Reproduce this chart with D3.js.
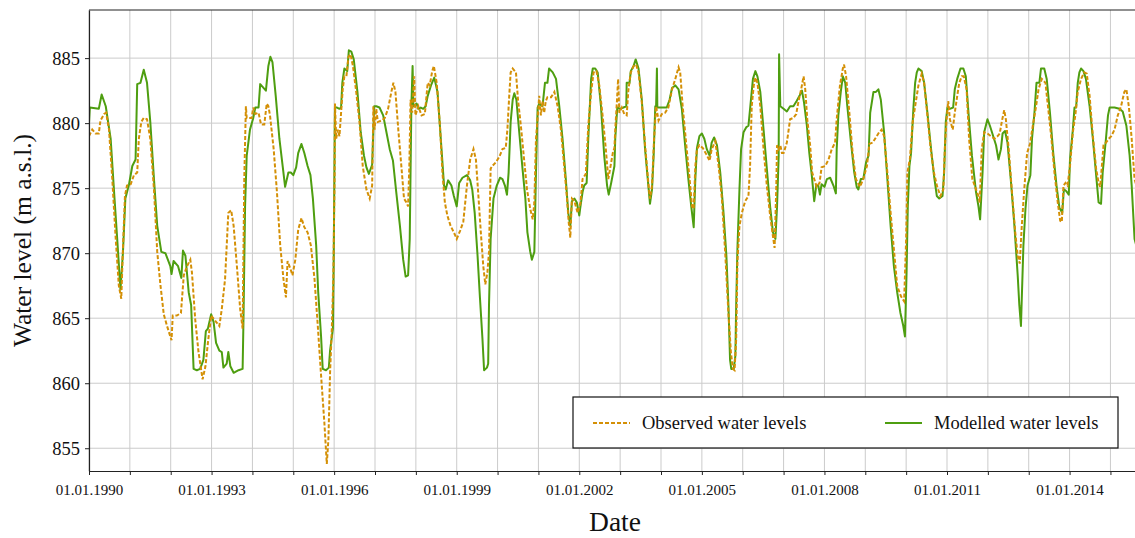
<!DOCTYPE html>
<html>
<head>
<meta charset="utf-8">
<script src="https://cdn.jsdelivr.net/npm/d3@7"></script>
<style>
  body { margin: 0; background: #fff; }
  svg { display: block; }
  svg text { font-family: "Liberation Serif", "Times New Roman", serif; }
</style>
</head>
<body>
<div id="chart"></div>
<script>
// values (decimal year, m a.s.l.)
var modelledYears = [
  1990.00,1990.02,1990.24,1990.31,1990.41,1990.53,1990.61,1990.69,1990.77,1990.83,1990.89,1990.98,
  1991.06,1991.14,1991.18,1991.26,1991.34,1991.42,1991.50,1991.59,1991.67,1991.77,1991.87,1991.99,
  1992.02,1992.07,1992.18,1992.26,1992.30,1992.36,1992.44,1992.50,1992.56,1992.64,1992.72,1992.80,
  1992.86,1992.91,1992.99,1993.05,1993.11,1993.19,1993.25,1993.29,1993.37,1993.41,1993.46,1993.54,
  1993.66,1993.76,1993.78,1993.82,1993.86,1993.94,1994.02,1994.07,1994.15,1994.19,1994.33,1994.39,
  1994.44,1994.49,1994.57,1994.66,1994.74,1994.80,1994.88,1994.94,1995.00,1995.07,1995.12,1995.20,
  1995.27,1995.35,1995.42,1995.48,1995.56,1995.61,1995.68,1995.72,1995.80,1995.87,1995.90,1995.97,
  1995.99,1996.02,1996.07,1996.13,1996.17,1996.20,1996.25,1996.32,1996.36,1996.42,1996.48,1996.57,
  1996.65,1996.73,1996.79,1996.85,1996.93,1996.98,1997.03,1997.11,1997.20,1997.28,1997.36,1997.44,
  1997.52,1997.61,1997.69,1997.75,1997.81,1997.85,1997.89,1997.92,1997.94,1998.02,1998.06,1998.12,
  1998.18,1998.24,1998.29,1998.37,1998.45,1998.53,1998.61,1998.69,1998.73,1998.79,1998.87,1998.93,
  1999.00,1999.06,1999.14,1999.25,1999.33,1999.38,1999.44,1999.51,1999.57,1999.63,1999.67,1999.74,
  1999.77,1999.79,1999.83,1999.90,1999.98,2000.06,2000.12,2000.18,2000.23,2000.27,2000.32,2000.37,
  2000.41,2000.46,2000.53,2000.61,2000.68,2000.73,2000.80,2000.84,2000.90,2000.94,2000.98,2001.02,
  2001.10,2001.16,2001.22,2001.26,2001.35,2001.43,2001.51,2001.59,2001.67,2001.73,2001.78,2001.82,
  2001.88,2001.94,2002.00,2002.02,2002.08,2002.12,2002.18,2002.22,2002.29,2002.33,2002.39,2002.45,
  2002.53,2002.61,2002.68,2002.72,2002.78,2002.86,2002.88,2002.93,2003.00,2003.08,2003.15,2003.16,
  2003.23,2003.26,2003.33,2003.38,2003.45,2003.53,2003.61,2003.69,2003.73,2003.78,2003.82,2003.86,
  2003.88,2003.90,2003.91,2003.98,2004.06,2004.14,2004.21,2004.27,2004.35,2004.43,2004.51,2004.59,
  2004.67,2004.74,2004.80,2004.84,2004.88,2004.94,2005.00,2005.06,2005.12,2005.19,2005.24,2005.30,
  2005.37,2005.45,2005.53,2005.60,2005.65,2005.69,2005.72,2005.78,2005.82,2005.84,2005.87,2005.92,
  2005.96,2006.02,2006.09,2006.14,2006.18,2006.25,2006.31,2006.36,2006.43,2006.51,2006.59,2006.67,
  2006.74,2006.80,2006.84,2006.88,2006.89,2006.92,2007.00,2007.08,2007.16,2007.24,2007.32,2007.39,
  2007.45,2007.50,2007.57,2007.63,2007.69,2007.75,2007.80,2007.85,2007.89,2007.93,2008.00,2008.06,
  2008.14,2008.22,2008.28,2008.30,2008.34,2008.40,2008.45,2008.51,2008.56,2008.64,2008.73,2008.79,
  2008.83,2008.89,2008.95,2009.02,2009.08,2009.12,2009.20,2009.26,2009.32,2009.38,2009.46,2009.54,
  2009.62,2009.70,2009.78,2009.86,2009.93,2009.97,2010.01,2010.04,2010.08,2010.12,2010.18,2010.22,
  2010.26,2010.30,2010.38,2010.44,2010.52,2010.60,2010.68,2010.75,2010.81,2010.89,2010.93,2010.97,
  2011.01,2011.07,2011.15,2011.19,2011.25,2011.33,2011.40,2011.46,2011.53,2011.61,2011.71,2011.77,
  2011.81,2011.87,2011.91,2011.99,2012.05,2012.11,2012.20,2012.26,2012.32,2012.36,2012.42,2012.48,
  2012.56,2012.65,2012.73,2012.77,2012.81,2012.83,2012.87,2012.92,2012.97,2013.04,2013.08,2013.14,
  2013.19,2013.26,2013.30,2013.38,2013.44,2013.52,2013.60,2013.68,2013.75,2013.82,2013.86,2013.91,
  2013.98,2014.01,2014.08,2014.12,2014.16,2014.20,2014.24,2014.28,2014.34,2014.40,2014.49,2014.57,
  2014.65,2014.71,2014.77,2014.81,2014.89,2014.94,2014.98,2015.10,2015.22,2015.30,2015.39,2015.47,
  2015.52,2015.59,2015.65
];
var modelledLevels = [
  880.0,881.2,881.1,882.2,881.3,878.8,874.9,871.1,867.2,870.0,874.2,875.3,
  876.7,877.2,883.0,883.1,884.1,883.1,880.1,875.7,872.1,870.1,870.0,869.0,
  868.4,869.4,869.0,868.1,870.2,869.8,867.0,866.0,861.1,861.0,861.1,861.8,
  864.0,864.2,865.3,864.7,863.1,862.5,862.4,861.2,861.5,862.4,861.3,860.8,
  861.0,861.1,864.7,873.6,877.5,879.5,880.4,881.2,881.2,883.0,882.5,884.4,
  885.1,884.7,882.1,878.8,876.7,875.1,876.2,876.2,876.0,876.6,877.7,878.4,
  877.7,876.7,876.0,874.2,870.6,867.0,863.6,861.1,861.0,861.2,862.5,864.2,
  869.8,881.2,881.2,881.1,881.2,883.1,884.2,884.0,885.6,885.5,884.9,882.4,
  879.3,877.5,876.6,876.1,876.8,881.3,881.3,881.2,880.6,879.3,878.0,877.1,
  874.7,872.1,869.5,868.2,868.3,871.1,881.3,884.4,881.3,881.5,881.1,881.2,
  881.1,881.3,882.1,882.9,883.5,882.4,878.8,875.2,874.9,875.6,875.2,874.4,
  873.6,875.4,875.8,876.0,875.6,874.9,873.1,869.8,866.5,863.4,861.0,861.2,
  861.5,866.0,871.1,874.2,875.2,875.8,875.7,875.2,874.5,876.2,880.1,881.8,
  882.3,881.8,879.3,876.5,874.2,871.6,870.1,869.5,870.1,876.2,881.2,881.5,
  881.3,883.1,883.1,884.2,883.9,883.4,881.3,878.8,875.7,873.1,872.1,874.0,
  874.2,873.9,872.9,873.4,874.7,875.2,875.4,878.8,883.4,884.2,884.2,883.9,
  881.3,877.5,875.2,874.5,875.4,876.7,878.8,881.2,881.1,881.2,881.3,883.1,
  883.1,884.0,884.4,884.9,884.2,881.8,878.0,875.2,873.8,874.9,877.5,881.3,
  881.3,884.2,881.2,881.2,881.2,881.2,881.8,882.7,882.9,882.6,881.1,878.3,
  875.7,873.6,872.0,875.7,878.1,879.0,879.2,878.8,878.0,877.5,878.5,878.9,
  878.3,876.2,873.1,869.8,866.0,861.8,861.1,861.1,862.1,866.0,870.3,874.9,
  878.0,879.3,879.7,879.8,881.1,883.4,884.0,883.6,882.4,879.5,876.5,873.6,
  871.6,871.1,873.6,877.5,885.3,881.3,881.1,880.9,881.3,881.3,881.7,882.1,
  882.5,881.6,879.8,877.7,876.0,874.0,875.2,875.2,874.5,875.3,875.1,875.7,
  875.8,875.2,874.6,878.0,880.6,882.4,883.6,883.1,881.3,878.8,876.2,875.1,
  874.9,875.7,875.7,877.0,877.5,880.8,882.4,882.4,882.6,881.8,879.3,875.7,
  872.1,869.0,867.0,865.4,864.4,863.6,868.5,873.6,876.7,877.7,881.3,883.1,
  883.9,884.2,884.0,883.1,880.8,878.3,876.0,874.4,874.2,874.4,876.2,880.1,
  881.2,881.1,881.2,882.6,883.4,884.2,884.2,883.6,880.6,877.5,874.7,873.6,
  872.6,876.2,879.3,880.3,879.8,879.2,878.3,877.2,878.0,879.2,879.4,878.5,
  875.7,872.1,868.3,866.0,864.4,866.5,870.6,873.4,875.2,876.0,878.8,880.8,
  883.1,883.1,884.2,884.2,883.4,880.8,877.7,875.2,873.5,873.1,874.9,874.8,
  874.5,877.2,879.5,881.2,881.2,883.1,883.9,884.2,884.0,883.4,881.3,878.8,
  876.0,873.9,873.8,876.2,878.8,880.6,881.2,881.2,881.1,880.9,879.8,877.5,
  875.2,871.1,870.4
];

var observedYears = [
  1990.00,1990.08,1990.16,1990.24,1990.28,1990.37,1990.42,1990.49,1990.57,1990.65,1990.73,1990.79,
  1990.83,1990.88,1990.93,1991.02,1991.10,1991.18,1991.22,1991.28,1991.34,1991.42,1991.50,1991.59,
  1991.67,1991.75,1991.83,1991.91,1992.02,1992.05,1992.15,1992.25,1992.32,1992.40,1992.48,1992.52,
  1992.60,1992.68,1992.78,1992.85,1992.91,1992.99,1993.09,1993.19,1993.25,1993.33,1993.41,1993.48,
  1993.54,1993.62,1993.70,1993.76,1993.80,1993.84,1993.86,1993.98,1994.02,1994.07,1994.15,1994.21,
  1994.29,1994.35,1994.39,1994.43,1994.52,1994.60,1994.68,1994.76,1994.82,1994.86,1994.93,1994.98,
  1995.05,1995.12,1995.20,1995.27,1995.35,1995.43,1995.52,1995.60,1995.68,1995.76,1995.82,1995.86,
  1995.90,1995.94,1995.98,1996.01,1996.02,1996.05,1996.09,1996.13,1996.17,1996.21,1996.25,1996.30,
  1996.35,1996.40,1996.46,1996.54,1996.62,1996.70,1996.79,1996.87,1996.93,1996.96,1996.99,1997.03,
  1997.07,1997.16,1997.24,1997.32,1997.40,1997.45,1997.50,1997.57,1997.65,1997.71,1997.77,1997.81,
  1997.84,1997.87,1997.91,1997.96,1997.99,1998.06,1998.14,1998.22,1998.29,1998.34,1998.40,1998.44,
  1998.51,1998.59,1998.65,1998.71,1998.77,1998.85,1998.93,1999.00,1999.08,1999.16,1999.25,1999.33,
  1999.41,1999.47,1999.52,1999.59,1999.65,1999.70,1999.75,1999.79,1999.83,1999.87,1999.96,2000.04,
  2000.12,2000.20,2000.24,2000.28,2000.32,2000.37,2000.45,2000.50,2000.57,2000.64,2000.72,2000.80,
  2000.86,2000.90,2000.94,2000.99,2001.02,2001.06,2001.10,2001.14,2001.18,2001.22,2001.31,2001.39,
  2001.47,2001.55,2001.63,2001.70,2001.74,2001.78,2001.82,2001.88,2001.96,2002.03,2002.08,2002.16,
  2002.22,2002.29,2002.35,2002.42,2002.49,2002.57,2002.65,2002.71,2002.76,2002.82,2002.86,2002.88,
  2002.92,2002.95,2002.98,2003.04,2003.10,2003.16,2003.20,2003.26,2003.33,2003.39,2003.45,2003.53,
  2003.61,2003.69,2003.73,2003.78,2003.83,2003.88,2003.94,2004.02,2004.10,2004.18,2004.27,2004.35,
  2004.43,2004.47,2004.53,2004.62,2004.70,2004.76,2004.80,2004.84,2004.88,2004.94,2005.02,2005.11,
  2005.19,2005.24,2005.33,2005.41,2005.49,2005.57,2005.65,2005.71,2005.76,2005.80,2005.84,2005.87,
  2005.92,2005.98,2006.06,2006.14,2006.18,2006.22,2006.27,2006.31,2006.36,2006.43,2006.51,2006.59,
  2006.67,2006.74,2006.78,2006.82,2006.84,2006.88,2006.92,2006.96,2007.00,2007.08,2007.16,2007.24,
  2007.31,2007.36,2007.43,2007.49,2007.53,2007.58,2007.65,2007.70,2007.75,2007.81,2007.88,2007.93,
  2008.02,2008.10,2008.18,2008.26,2008.30,2008.38,2008.45,2008.48,2008.53,2008.61,2008.69,2008.77,
  2008.87,2008.95,2009.04,2009.10,2009.18,2009.26,2009.34,2009.40,2009.46,2009.54,2009.62,2009.70,
  2009.78,2009.87,2009.95,2010.00,2010.03,2010.09,2010.16,2010.22,2010.30,2010.38,2010.44,2010.52,
  2010.60,2010.68,2010.76,2010.84,2010.91,2010.95,2010.99,2011.03,2011.07,2011.14,2011.19,2011.25,
  2011.30,2011.36,2011.41,2011.48,2011.54,2011.62,2011.71,2011.77,2011.80,2011.85,2011.91,2011.99,
  2012.07,2012.16,2012.24,2012.29,2012.34,2012.40,2012.44,2012.51,2012.59,2012.67,2012.73,2012.78,
  2012.83,2012.89,2012.96,2013.03,2013.10,2013.18,2013.24,2013.32,2013.41,2013.46,2013.55,2013.63,
  2013.71,2013.77,2013.81,2013.85,2013.90,2013.95,2014.01,2014.08,2014.14,2014.20,2014.28,2014.36,
  2014.42,2014.49,2014.57,2014.65,2014.71,2014.75,2014.79,2014.83,2014.89,2014.96,2015.02,2015.10,
  2015.18,2015.26,2015.34,2015.39,2015.45,2015.52,2015.59,2015.65
];
var observedLevels = [
  879.0,879.5,879.2,879.2,880.2,880.7,880.8,879.5,875.7,871.3,867.5,866.5,
  870.3,874.4,875.2,875.3,876.0,876.2,878.8,880.1,880.4,880.3,878.8,874.9,
  870.1,867.5,865.3,864.4,863.3,865.2,865.2,865.4,868.3,869.0,869.5,868.5,
  864.9,862.4,860.3,861.3,863.1,865.2,864.8,864.4,865.7,868.0,873.1,873.3,
  872.1,869.0,865.7,864.2,875.7,881.3,880.4,880.4,881.2,880.7,880.8,879.9,
  879.9,881.5,881.3,880.6,878.0,874.7,870.6,868.0,866.6,869.4,868.8,868.3,
  869.5,871.8,872.7,872.0,871.6,870.6,868.0,864.4,860.6,857.0,853.8,855.7,
  860.8,863.9,868.0,875.7,881.5,878.8,879.5,879.0,880.8,882.6,883.6,883.6,
  885.1,885.3,884.4,882.4,880.1,876.7,874.9,874.2,875.2,881.3,879.5,881.1,
  880.1,880.2,880.4,881.1,882.4,883.1,882.4,879.5,876.5,874.2,873.9,873.6,
  876.7,881.8,880.8,883.6,880.6,881.3,880.6,880.7,883.1,882.9,884.0,884.4,
  883.1,879.8,876.2,873.9,872.9,872.1,871.6,871.1,871.7,872.4,875.2,877.2,
  878.0,877.2,874.9,871.6,869.0,867.6,868.5,870.1,876.5,876.7,877.0,877.4,
  878.0,878.1,879.5,881.8,883.9,884.2,883.9,881.8,879.8,877.5,874.9,873.4,
  872.6,873.9,878.8,880.8,882.1,880.6,881.7,880.8,881.7,882.0,882.0,882.4,
  881.3,879.5,876.7,874.2,872.4,871.2,874.2,874.0,873.1,873.9,875.7,876.1,
  879.8,882.4,883.9,884.0,882.9,880.6,878.0,875.7,876.6,877.7,878.1,879.5,
  881.6,883.4,880.8,881.2,880.7,880.6,882.5,883.9,884.4,884.5,883.9,881.6,
  878.3,875.4,874.2,875.2,878.8,881.3,880.2,880.7,880.8,881.2,882.6,883.4,
  884.3,883.9,881.3,878.3,875.7,873.6,873.4,876.7,878.0,878.3,878.1,877.6,
  877.1,878.0,878.6,876.7,874.2,870.1,865.4,862.4,861.1,861.0,863.4,869.3,
  872.1,873.1,874.0,874.4,876.7,881.3,882.9,883.5,883.1,881.3,878.0,875.2,
  872.9,871.3,870.4,874.9,878.3,878.0,878.3,877.7,877.7,878.5,880.3,880.4,
  880.7,881.6,882.6,883.6,882.6,880.3,878.3,876.2,875.7,875.1,875.4,876.6,
  876.7,877.2,878.0,878.5,880.3,882.9,884.2,884.5,883.6,880.8,877.7,875.7,
  875.1,875.7,876.7,878.4,878.5,878.9,879.3,879.5,879.0,876.2,873.1,870.3,
  867.5,866.7,866.3,871.1,876.2,877.2,880.1,881.3,882.9,883.8,883.1,880.6,
  878.0,876.2,875.1,874.4,874.9,878.3,880.3,881.7,880.3,879.5,880.8,882.1,
  883.1,883.6,883.6,882.6,878.8,875.7,874.9,874.4,873.9,878.0,879.3,879.2,
  879.0,878.8,879.0,879.2,880.1,881.0,880.3,878.0,874.7,871.6,869.8,869.2,
  872.1,874.9,877.7,878.4,879.8,881.3,882.6,883.4,883.1,881.6,879.0,876.2,
  873.9,872.5,872.4,875.2,875.4,875.2,876.7,879.3,880.6,882.4,883.4,883.9,
  883.8,882.1,879.0,876.5,875.4,875.1,876.7,878.3,878.5,878.8,879.0,879.5,
  880.6,881.3,882.4,882.6,881.3,878.8,875.7,875.0
];

var yTickValues = [855, 860, 865, 870, 875, 880, 885];
var xTickYears = d3.range(1990, 2016);
var xLabelYears = [1990, 1993, 1996, 1999, 2002, 2005, 2008, 2011, 2014];
var seriesNames = ["Observed water levels", "Modelled water levels"];

var width = 1135, height = 538;
var plotLeft = 89, plotTop = 10, plotRight = 1137, plotBottom = 471;
var observedColor = "#d49006", modelledColor = "#4e9e10";
var serif = "'Liberation Serif', 'Times New Roman', serif";

var svg = d3.select("#chart").append("svg")
    .attr("width", width)
    .attr("height", height);

svg.append("rect").attr("width", width).attr("height", height).attr("fill", "#fff");

var x = d3.scaleLinear().domain([1990, 2015.65]).range([plotLeft, plotRight]);
var y = d3.scaleLinear().domain([853.25, 888.7]).range([plotBottom, plotTop]);

// grid
svg.append("g")
    .selectAll("line")
    .data(xTickYears)
    .enter().append("line")
    .attr("x1", function(d) { return x(d); })
    .attr("x2", function(d) { return x(d); })
    .attr("y1", plotTop).attr("y2", plotBottom)
    .attr("stroke", "#cbcbcb").attr("stroke-width", 1);

svg.append("g")
    .selectAll("line")
    .data(yTickValues)
    .enter().append("line")
    .attr("x1", plotLeft).attr("x2", plotRight)
    .attr("y1", function(d) { return y(d); })
    .attr("y2", function(d) { return y(d); })
    .attr("stroke", "#cbcbcb").attr("stroke-width", 1);

// lines
svg.append("clipPath").attr("id", "clip")
    .append("rect").attr("x", plotLeft).attr("y", plotTop)
    .attr("width", plotRight - plotLeft).attr("height", plotBottom - plotTop);

var modelled = modelledYears.map(function(t, i) { return [t, modelledLevels[i]]; });
var observed = observedYears.map(function(t, i) { return [t, observedLevels[i]]; });

var line = d3.line()
    .x(function(d) { return x(d[0]); })
    .y(function(d) { return y(d[1]); });

svg.append("path")
    .datum(modelled)
    .attr("clip-path", "url(#clip)")
    .attr("d", line)
    .attr("fill", "none")
    .attr("stroke", modelledColor)
    .attr("stroke-width", 2)
    .attr("stroke-linejoin", "round");

svg.append("path")
    .datum(observed)
    .attr("clip-path", "url(#clip)")
    .attr("d", line)
    .attr("fill", "none")
    .attr("stroke", observedColor)
    .attr("stroke-width", 2)
    .attr("stroke-dasharray", "4,2");

// axes
var xAxis = d3.axisBottom(x)
    .tickValues(xTickYears)
    .tickSize(4)
    .tickSizeOuter(0)
    .tickFormat(function(d) { return xLabelYears.indexOf(d) >= 0 ? "01.01." + d : ""; });

var gx = svg.append("g")
    .attr("transform", "translate(0," + plotBottom + ")")
    .call(xAxis)
    .attr("font-family", serif);
gx.select(".domain").attr("stroke", "#222").attr("stroke-width", 1.2);
gx.selectAll(".tick line").attr("stroke", "#222");
gx.selectAll("text")
    .style("font-family", serif)
    .style("font-size", "15px")
    .attr("fill", "#111")
    .attr("dy", "1.1em");

var yAxis = d3.axisLeft(y)
    .tickValues(yTickValues)
    .tickSize(4)
    .tickSizeOuter(0);

var gy = svg.append("g")
    .attr("transform", "translate(" + plotLeft + ",0)")
    .call(yAxis)
    .attr("font-family", serif);
gy.select(".domain").attr("stroke", "#222").attr("stroke-width", 1.2);
gy.selectAll(".tick line").attr("stroke", "#222");
gy.selectAll("text")
    .style("font-family", serif)
    .style("font-size", "18.5px")
    .attr("fill", "#111")
    .attr("x", -9);

// top spine
svg.append("line")
    .attr("x1", plotLeft).attr("x2", plotRight)
    .attr("y1", plotTop).attr("y2", plotTop)
    .attr("stroke", "#222").attr("stroke-width", 1.2);

// axis titles
svg.append("text")
    .attr("transform", "translate(31," + (plotTop + plotBottom) / 2 + ") rotate(-90)")
    .attr("text-anchor", "middle")
    .style("font-size", "25.5px")
    .attr("fill", "#111")
    .text("Water level (m a.s.l.)");

svg.append("text")
    .attr("x", 615)
    .attr("y", 531)
    .attr("text-anchor", "middle")
    .style("font-size", "27.5px")
    .attr("fill", "#111")
    .text("Date");

// legend
var legend = svg.append("g").attr("transform", "translate(573,397)");
legend.append("rect")
    .attr("width", 545).attr("height", 51)
    .attr("fill", "#fff")
    .attr("stroke", "#111").attr("stroke-width", 1.2);

var items = legend.selectAll("g")
    .data(seriesNames)
    .enter().append("g")
    .attr("transform", function(d, i) { return "translate(" + (20 + i * 292) + ",26)"; });

items.append("line")
    .attr("x1", 0).attr("x2", 37)
    .attr("stroke", function(d, i) { return i === 0 ? observedColor : modelledColor; })
    .attr("stroke-width", 2)
    .attr("stroke-dasharray", function(d, i) { return i === 0 ? "4,2" : null; });

items.append("text")
    .attr("x", 49)
    .attr("dy", "0.33em")
    .style("font-size", "18.5px")
    .attr("fill", "#111")
    .text(function(d) { return d; });
</script>
</body>
</html>
